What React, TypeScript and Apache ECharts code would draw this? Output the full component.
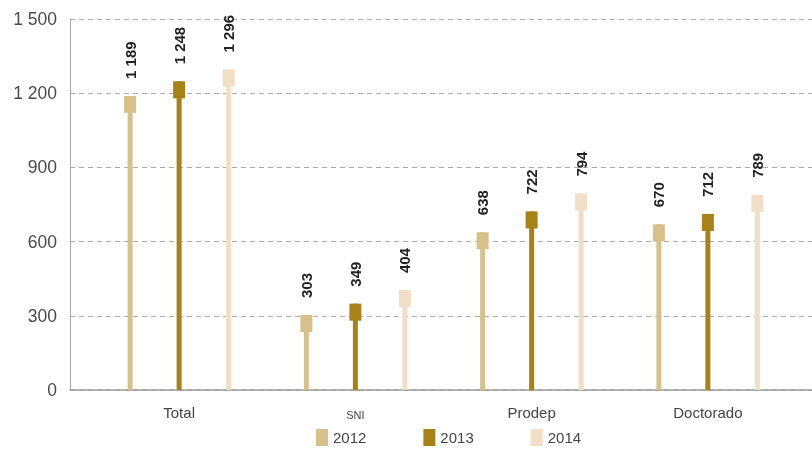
import React, { useEffect, useRef } from "react";
import * as echarts from "echarts";

const categories = ["Total", "SNI", "Prodep", "Doctorado"];
const years = ["2012", "2013", "2014"];
const values2012 = [1189, 303, 638, 670];
const values2013 = [1248, 349, 722, 712];
const values2014 = [1296, 404, 794, 789];
const yTicks = { min: 0, max: 1500, interval: 300 };

const colors = ["#d8c08b", "#a68217", "#f0dfc5"];
const offsets = [-49, 0, 49.5];

const fmt = (v: number) => {
  const s = String(Math.round(v));
  return s.length > 3 ? s.slice(0, s.length - 3) + " " + s.slice(-3) : s;
};

export default function App() {
  const ref = useRef<HTMLDivElement>(null);
  useEffect(() => {
    if (!ref.current) return;
    const chart = echarts.init(ref.current, null, { renderer: "svg" });
    const seriesValues = [values2012, values2013, values2014];
    const font = "'Liberation Sans', Arial, sans-serif";
    const series = seriesValues.map((vals, si) => ({
      type: "custom",
      name: years[si],
      xAxisIndex: 1,
      yAxisIndex: 1,
      itemStyle: { color: colors[si] },
      data: vals.map((v, i) => [i, v]),
      renderItem: (params: any, api: any) => {
        const cat = api.value(0);
        const v = api.value(1);
        const top = api.coord([cat, v]);
        const base = api.coord([cat, 0]);
        const cx = top[0] + offsets[si];
        return {
          type: "group",
          children: [
            {
              type: "rect",
              shape: { x: cx - 2.5, y: top[1], width: 5, height: base[1] - top[1] },
              style: { fill: colors[si] },
            },
            {
              type: "rect",
              shape: { x: cx - 6, y: top[1], width: 12, height: 17 },
              style: { fill: colors[si] },
            },
            {
              type: "text",
              x: cx,
              y: top[1] - 17,
              rotation: Math.PI / 2,
              style: {
                text: fmt(v),
                fill: "#222",
                font: `bold 15px ${font}`,
                textAlign: "left",
                textVerticalAlign: "middle",
              },
            },
          ],
        };
      },
    }));
    chart.setOption({
      animation: false,
      textStyle: { fontFamily: font },
      legend: {
        bottom: 0,
        left: 311,
        itemWidth: 12,
        itemHeight: 17,
        itemGap: 57,
        icon: "rect",
        textStyle: { fontSize: 15, color: "#444", fontFamily: font },
        data: years.map((y, i) => ({ name: y, itemStyle: { color: colors[i] } })),
      },
      grid: [
        { left: 70, right: 0, top: 19, bottom: 61 },
        { left: 91, right: 16, top: 19, bottom: 61 },
      ],
      xAxis: [
        {
          type: "category",
          gridIndex: 0,
          data: [""],
          axisLine: { show: true, lineStyle: { color: "#9a9a9a", width: 1.5 } },
          axisTick: { show: false },
          axisLabel: { show: false },
        },
        {
          type: "category",
          gridIndex: 1,
          data: categories,
          axisLine: { show: false },
          axisTick: { show: false },
          axisLabel: {
            margin: 15,
            fontSize: 15,
            color: "#444",
            fontFamily: font,
            formatter: (v: string) => (v === "SNI" ? `{s|${v}}` : v),
            rich: { s: { fontSize: 11, color: "#444", fontFamily: font, padding: [4, 0, 0, 0] } },
          },
        },
      ],
      yAxis: [
        {
          type: "value",
          gridIndex: 0,
          ...yTicks,
          axisLine: { show: true, lineStyle: { color: "#aaa" } },
          axisTick: { show: false },
          splitLine: { show: true, lineStyle: { color: "#aaa", type: [5, 4] } },
          axisLabel: {
            margin: 13,
            fontSize: 17.5,
            color: "#4a4a4a",
            fontFamily: font,
            formatter: (v: number) => fmt(v),
          },
        },
        {
          type: "value",
          gridIndex: 1,
          ...yTicks,
          show: false,
          splitLine: { show: false },
        },
      ],
      series,
    });
    return () => chart.dispose();
  }, []);
  return (
    <div
      ref={ref}
      style={{ position: "fixed", left: 0, top: 0, width: 812, height: 451 }}
    />
  );
}
